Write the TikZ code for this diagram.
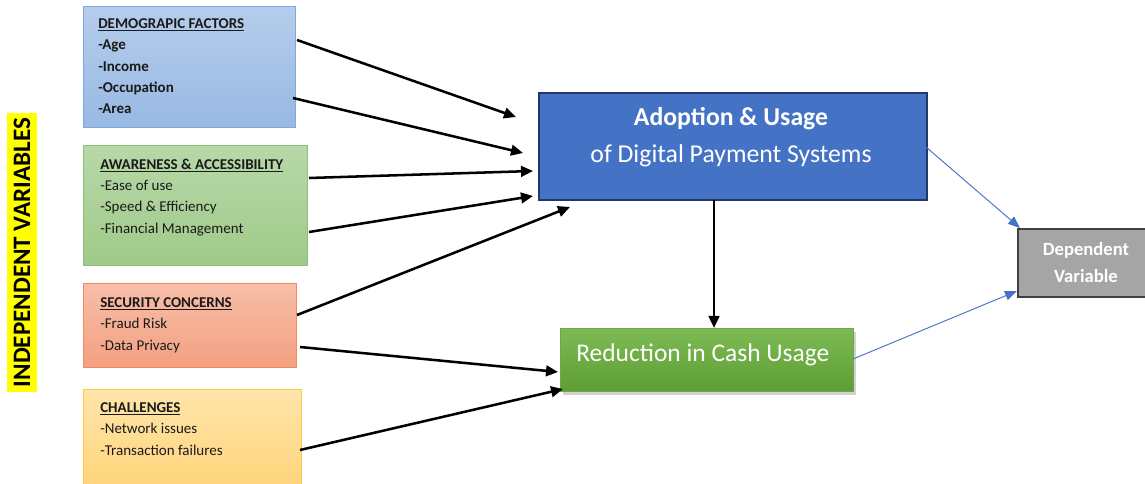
\documentclass[tikz,border=0pt]{standalone}
\usepackage{fontspec}
\setmainfont{Carlito}
\usetikzlibrary{arrows.meta,shadows}
\definecolor{demoT}{HTML}{B5CDEB}
\definecolor{demoB}{HTML}{98B9E3}
\definecolor{demoD}{HTML}{7FA9DD}
\definecolor{awT}{HTML}{B7D8A8}
\definecolor{awB}{HTML}{9FCA89}
\definecolor{awD}{HTML}{8CC07A}
\definecolor{secT}{HTML}{F7BEA8}
\definecolor{secB}{HTML}{F3A081}
\definecolor{secD}{HTML}{EF8C5F}
\definecolor{chT}{HTML}{FFE5AA}
\definecolor{chB}{HTML}{FFD47A}
\definecolor{chD}{HTML}{FFC845}
\definecolor{adF}{HTML}{4472C4}
\definecolor{adD}{HTML}{22386A}
\definecolor{rcT}{HTML}{7DBA55}
\definecolor{rcB}{HTML}{5E9E33}
\definecolor{dvF}{HTML}{A5A5A5}
\definecolor{dvD}{HTML}{404040}
\definecolor{txt}{HTML}{1A1A1A}
\definecolor{hl}{HTML}{FFFF00}
\tikzset{
  ivbox/.style={anchor=north west, inner sep=0pt, line width=0.8pt},
  ivtext/.style={anchor=north west, inner sep=0pt, align=left, text=txt,
     font=\fontsize{11.25}{16}\selectfont},
  blk/.style={line width=1.9pt, black, -{Triangle[length=9pt,width=8pt]}},
  blu/.style={line width=0.7pt, adF, -{Triangle[length=9pt,width=7pt]}},
}
\begin{document}
\begin{tikzpicture}[x=0.75pt,y=-0.75pt]
\clip (0,0) rectangle (1145,484);
\fill[white] (0,0) rectangle (1145,484);

% independent variable boxes
\node[ivbox, draw=demoD, top color=demoT, bottom color=demoB,
  minimum width={212*0.75pt}, minimum height={121*0.75pt}] (demo) at (83,6) {};
\node[ivtext, font=\fontsize{11.25}{16}\selectfont\bfseries] (demot) at (98,18.5)
  {\underline{DEMOGRAPIC FACTORS}\\-Age\\-Income\\-Occupation\\-Area};

\node[ivbox, draw=awD, top color=awT, bottom color=awB,
  minimum width={224*0.75pt}, minimum height={120*0.75pt}] (aware) at (83,145) {};
\node[ivtext] (awaret) at (100,158.5)
  {\textbf{\underline{AWARENESS \& ACCESSIBILITY}}\\-Ease of use\\-Speed \& Efficiency\\-Financial Management};

\node[ivbox, draw=secD, top color=secT, bottom color=secB,
  minimum width={213*0.75pt}, minimum height={84*0.75pt}] (sec) at (83,283) {};
\node[ivtext] (sect) at (100,297.5)
  {\textbf{\underline{SECURITY CONCERNS}}\\-Fraud Risk\\-Data Privacy};

\node[ivbox, draw=chD, top color=chT, bottom color=chB,
  minimum width={218*0.75pt}, minimum height={100*0.75pt}] (chal) at (83,389) {};
\node[ivtext] (chalt) at (100,402.5)
  {\textbf{\underline{CHALLENGES}}\\-Network issues\\-Transaction failures};

% side label
\node[fill=hl, rotate=90, inner xsep=0pt, inner ysep=0pt, minimum height={30*0.75pt},
  minimum width={279*0.75pt}, font=\fontsize{18.8}{18.8}\selectfont\bfseries, text=black]
  (iv) at (22,252.5) {INDEPENDENT VARIABLES};

% main boxes
\node[anchor=north west, draw=adD, line width=1.4pt, fill=adF,
  minimum width={388*0.75pt}, minimum height={107*0.75pt}] (adopt) at (538,92) {};
\node[text=white, font=\fontsize{19.3}{19.3}\selectfont\bfseries, inner sep=0pt] (adt1) at (731,119) {Adoption \& Usage};
\node[text=white, font=\fontsize{19.3}{19.3}\selectfont, inner sep=0pt] (adt2) at (731,156) {of Digital Payment Systems};

\node[anchor=north west, top color=rcT, bottom color=rcB, draw=rcT!90!black, line width=0.4pt,
  drop shadow={shadow xshift=2pt, shadow yshift=-2.5pt, opacity=0.35},
  minimum width={293*0.75pt}, minimum height={63*0.75pt}] (red) at (560,328) {};
\node[text=white, font=\fontsize{19.1}{19.1}\selectfont, inner sep=0pt, anchor=west] (redt) at (576,355) {Reduction in Cash Usage};

\node[anchor=north west, draw=dvD, line width=1.4pt, fill=dvF,
  minimum width={135*0.75pt}, minimum height={68*0.75pt}] (dep) at (1017,228) {};
\node[text=white, font=\fontsize{14}{20.5}\selectfont\bfseries, align=center, inner sep=0pt] (dept) at (1086,262.5) {Dependent\\Variable};

% arrow end points
\coordinate (a1s) at (297,40);  \coordinate (a1e) at (516,117);
\coordinate (a2s) at (293,98);  \coordinate (a2e) at (523,153);
\coordinate (a3s) at (309,178); \coordinate (a3e) at (533,171);
\coordinate (a4s) at (309,232); \coordinate (a4e) at (533,196);
\coordinate (a5s) at (297,315); \coordinate (a5e) at (570,207);
\coordinate (a6s) at (300,347); \coordinate (a6e) at (558,372);
\coordinate (a7s) at (300,450); \coordinate (a7e) at (563,389);
\coordinate (a8s) at (714,200); \coordinate (a8e) at (714,328);
\coordinate (b1s) at (926,147); \coordinate (b1e) at (1020,228);
\coordinate (b2s) at (853,359); \coordinate (b2e) at (1017,291);

\draw[blk] (a1s) -- (a1e);
\draw[blk] (a2s) -- (a2e);
\draw[blk] (a3s) -- (a3e);
\draw[blk] (a4s) -- (a4e);
\draw[blk] (a5s) -- (a5e);
\draw[blk] (a6s) -- (a6e);
\draw[blk] (a7s) -- (a7e);
\draw[blk] (a8s) -- (a8e);
\draw[blu] (b1s) -- (b1e);
\draw[blu] (b2s) -- (b2e);
\end{tikzpicture}
\end{document}
